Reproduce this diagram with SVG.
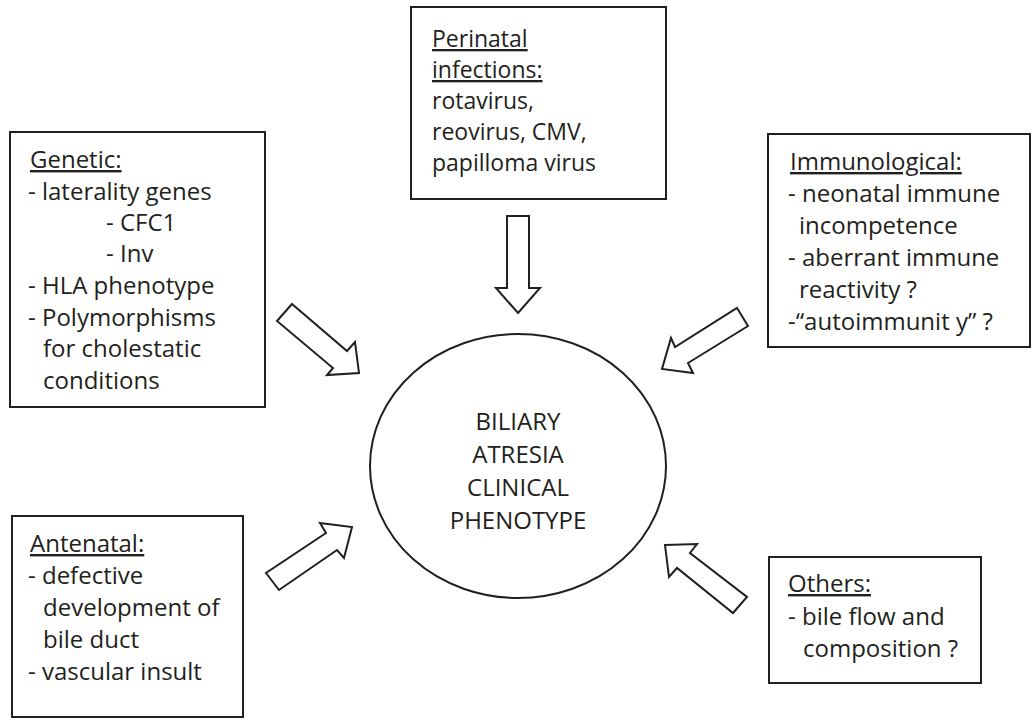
<svg xmlns="http://www.w3.org/2000/svg" width="1035" height="720" viewBox="0 0 1035 720">
<style>
.box{fill:#fff;stroke:#231f20;stroke-width:2}
.arr{fill:#fff;stroke:#231f20;stroke-width:2;stroke-linejoin:miter}
.t{font-family:"Open Sans","Liberation Sans",sans-serif;font-size:24px;fill:#231f20}
.s{font-size:23px}
.u{text-decoration:underline}
.c{text-anchor:middle}
</style>
<rect width="1035" height="720" fill="#fff"/>
<g id="connectors">
<polygon class="arr" points="507,216 529,216 529,288 540,288 518,313 496,288 507,288"/>
<polygon class="arr" points="292,304 347,351 355,342 359,373 327,375 333,368 277,321"/>
<polygon class="arr" points="737,308 748,326 688,363 693,373 662,369 671,338 675,347"/>
<polygon class="arr" points="266,573 279,590 337,550 344,558 352,527 320,523 326,533"/>
<polygon class="arr" points="665,545 697,544 690,553 747,597 733,613 677,568 669,577"/>
</g>
<g id="genetic">
<rect class="box" x="10" y="132" width="255" height="275"/>
<text class="t u" x="30" y="168">Genetic:</text>
<text class="t" x="28" y="200">- laterality genes</text>
<text class="t" x="106" y="231">- CFC1</text>
<text class="t" x="106" y="262">- Inv</text>
<text class="t" x="28" y="294">- HLA phenotype</text>
<text class="t" x="28" y="326">- Polymorphisms</text>
<text class="t" x="43" y="357">for cholestatic</text>
<text class="t" x="43" y="389">conditions</text>
</g>
<g id="perinatal">
<rect class="box" x="411" y="7" width="255" height="192"/>
<text class="t s u" x="432" y="47">Perinatal</text>
<text class="t s u" x="432" y="78">infections:</text>
<text class="t s" x="432" y="109">rotavirus,</text>
<text class="t s" x="432" y="140">reovirus, CMV,</text>
<text class="t s" x="432" y="171">papilloma virus</text>
</g>
<g id="immunological">
<rect class="box" x="768" y="134" width="262" height="213"/>
<text class="t u" x="790" y="170">Immunological:</text>
<text class="t" x="788" y="202">- neonatal immune</text>
<text class="t" x="799" y="234">incompetence</text>
<text class="t" x="788" y="266">- aberrant immune</text>
<text class="t" x="799" y="298">reactivity ?</text>
<text class="t" x="788" y="330">-“autoimmunit y” ?</text>
</g>
<g id="center">
<ellipse cx="518" cy="466" rx="148" ry="132" fill="#fff" stroke="#231f20" stroke-width="2"/>
<text class="t c" x="518" y="430">BILIARY</text>
<text class="t c" x="518" y="463">ATRESIA</text>
<text class="t c" x="518" y="496">CLINICAL</text>
<text class="t c" x="518" y="529">PHENOTYPE</text>
</g>
<g id="antenatal">
<rect class="box" x="12" y="516" width="231" height="201"/>
<text class="t u" x="30" y="552">Antenatal:</text>
<text class="t" x="28" y="584">- defective</text>
<text class="t" x="43" y="616">development of</text>
<text class="t" x="43" y="648">bile duct</text>
<text class="t" x="28" y="680">- vascular insult</text>
</g>
<g id="others">
<rect class="box" x="769" y="557" width="212" height="126"/>
<text class="t u" x="788" y="592">Others:</text>
<text class="t" x="788" y="625">- bile flow and</text>
<text class="t" x="803" y="657">composition ?</text>
</g>
</svg>
